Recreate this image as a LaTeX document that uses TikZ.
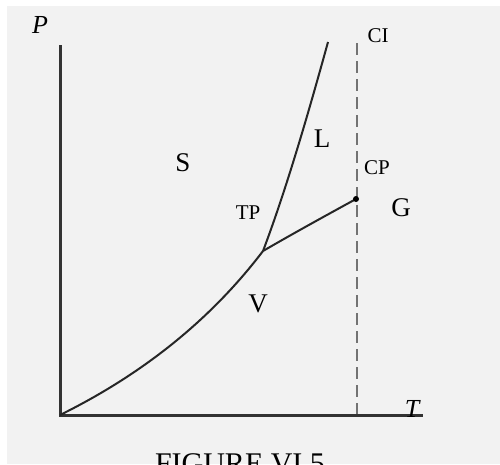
\documentclass[tikz,border=0pt]{standalone}
\usepackage{fontspec}
\setmainfont{Liberation Serif}
\begin{document}
\begin{tikzpicture}[x=1pt,y=-1pt,
  axis/.style={line width=3pt,draw=black!80},
  curve/.style={line width=2pt,draw=black!85},
  crit/.style={line width=1.6pt,draw=black!55,dash pattern=on 12pt off 6pt},
  big/.style={font=\fontsize{27}{30}\selectfont,inner sep=0pt},
  small/.style={font=\fontsize{21}{24}\selectfont,inner sep=0pt},
  axlab/.style={font=\fontsize{26}{30}\selectfont\itshape,inner sep=0pt}]
\useasboundingbox (0,0) rectangle (500,464);
\fill[white] (0,0) rectangle (500,464);
\fill[black!5] (7,6) rectangle (500,464);
% named points
\coordinate (O) at (60,415);
\coordinate (Ptop) at (60,45);
\coordinate (Tend) at (423,415);
\coordinate (TPpt) at (263,251);
\coordinate (CPpt) at (356,199);
\coordinate (Mtop) at (328,42);
\coordinate (CItop) at (357,43);
\coordinate (CIbot) at (357,415);
% dashed critical isotherm
\draw[crit] (CItop) -- (CIbot);
% axes
\draw[axis] (Ptop) -- (O) -- (Tend);
% curves
\draw[curve] (O) .. controls (145,373) and (212,318) .. (TPpt);
\draw[curve] (TPpt) .. controls (288,185) and (312,100) .. (Mtop);
\draw[curve] (TPpt) .. controls (294,233) and (325,216) .. (CPpt);
\fill[black] (CPpt) circle (3pt);
% labels
\node[axlab] (lP) at (40,25) {P};
\node[axlab] (lT) at (412,409) {T};
\node[big] (lS) at (183,163) {S};
\node[big] (lL) at (322,139) {L};
\node[big] (lG) at (401,208) {G};
\node[big] (lV) at (258,304) {V};
\node[small] (lCI) at (378,36) {CI};
\node[small] (lCP) at (377,168) {CP};
\node[small] (lTP) at (248,213) {TP};
\node[font=\fontsize{30}{34}\selectfont,inner sep=0pt,anchor=base] (cap) at (240,473) {FIGURE VI.5};
\end{tikzpicture}
\end{document}
